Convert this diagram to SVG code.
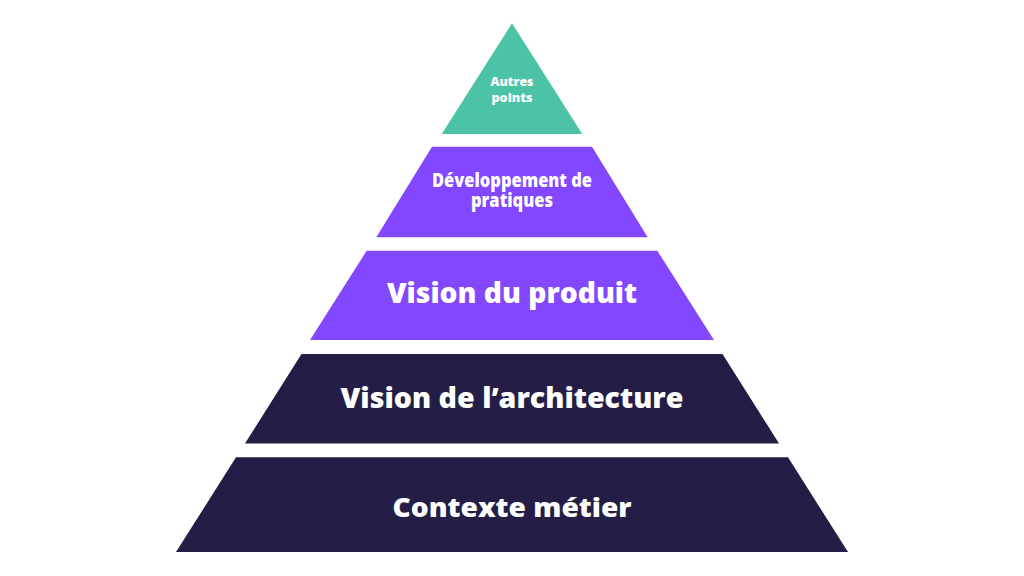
<svg xmlns="http://www.w3.org/2000/svg" width="1024" height="576" viewBox="0 0 1024 576">
<style>
.lbl{font-family:"Open Sans","Liberation Sans",sans-serif;font-weight:800;fill:#ffffff;text-anchor:middle}
.teal{fill:#4CC3A5}
.purple{fill:#8247FF}
.navy{fill:#241E46}
</style>
<rect width="1024" height="576" fill="#ffffff"/>
<g id="tier-autres-points">
<polygon class="teal" points="512,23.3 441.7,134 582.3,134"/>
<text class="lbl" x="512" y="86" font-size="12.5" textLength="43" lengthAdjust="spacingAndGlyphs">Autres</text>
<text class="lbl" x="512" y="102" font-size="12.5" textLength="41" lengthAdjust="spacingAndGlyphs">points</text>
</g>
<g id="tier-developpement">
<polygon class="purple" points="432,146.7 592,146.7 647.7,237.3 376.3,237.3"/>
<text class="lbl" x="512" y="187" font-size="18.5" textLength="160" lengthAdjust="spacingAndGlyphs">Développement de</text>
<text class="lbl" x="512" y="206.5" font-size="18.5" textLength="82" lengthAdjust="spacingAndGlyphs">pratiques</text>
</g>
<g id="tier-vision-produit">
<polygon class="purple" points="366.7,250.7 657.3,250.7 714,340 310,340"/>
<text class="lbl" x="512" y="303" font-size="29" textLength="250" lengthAdjust="spacingAndGlyphs">Vision du produit</text>
</g>
<g id="tier-vision-architecture">
<polygon class="navy" points="301.5,354 722.5,354 779,443.5 245,443.5"/>
<text class="lbl" x="512" y="408" font-size="29" textLength="343" lengthAdjust="spacingAndGlyphs">Vision de l’architecture</text>
</g>
<g id="tier-contexte-metier">
<polygon class="navy" points="236,457.3 788,457.3 848,552 176,552"/>
<text class="lbl" x="512" y="517" font-size="26" textLength="239" lengthAdjust="spacingAndGlyphs">Contexte métier</text>
</g>
<g id="connectors"></g>
</svg>
